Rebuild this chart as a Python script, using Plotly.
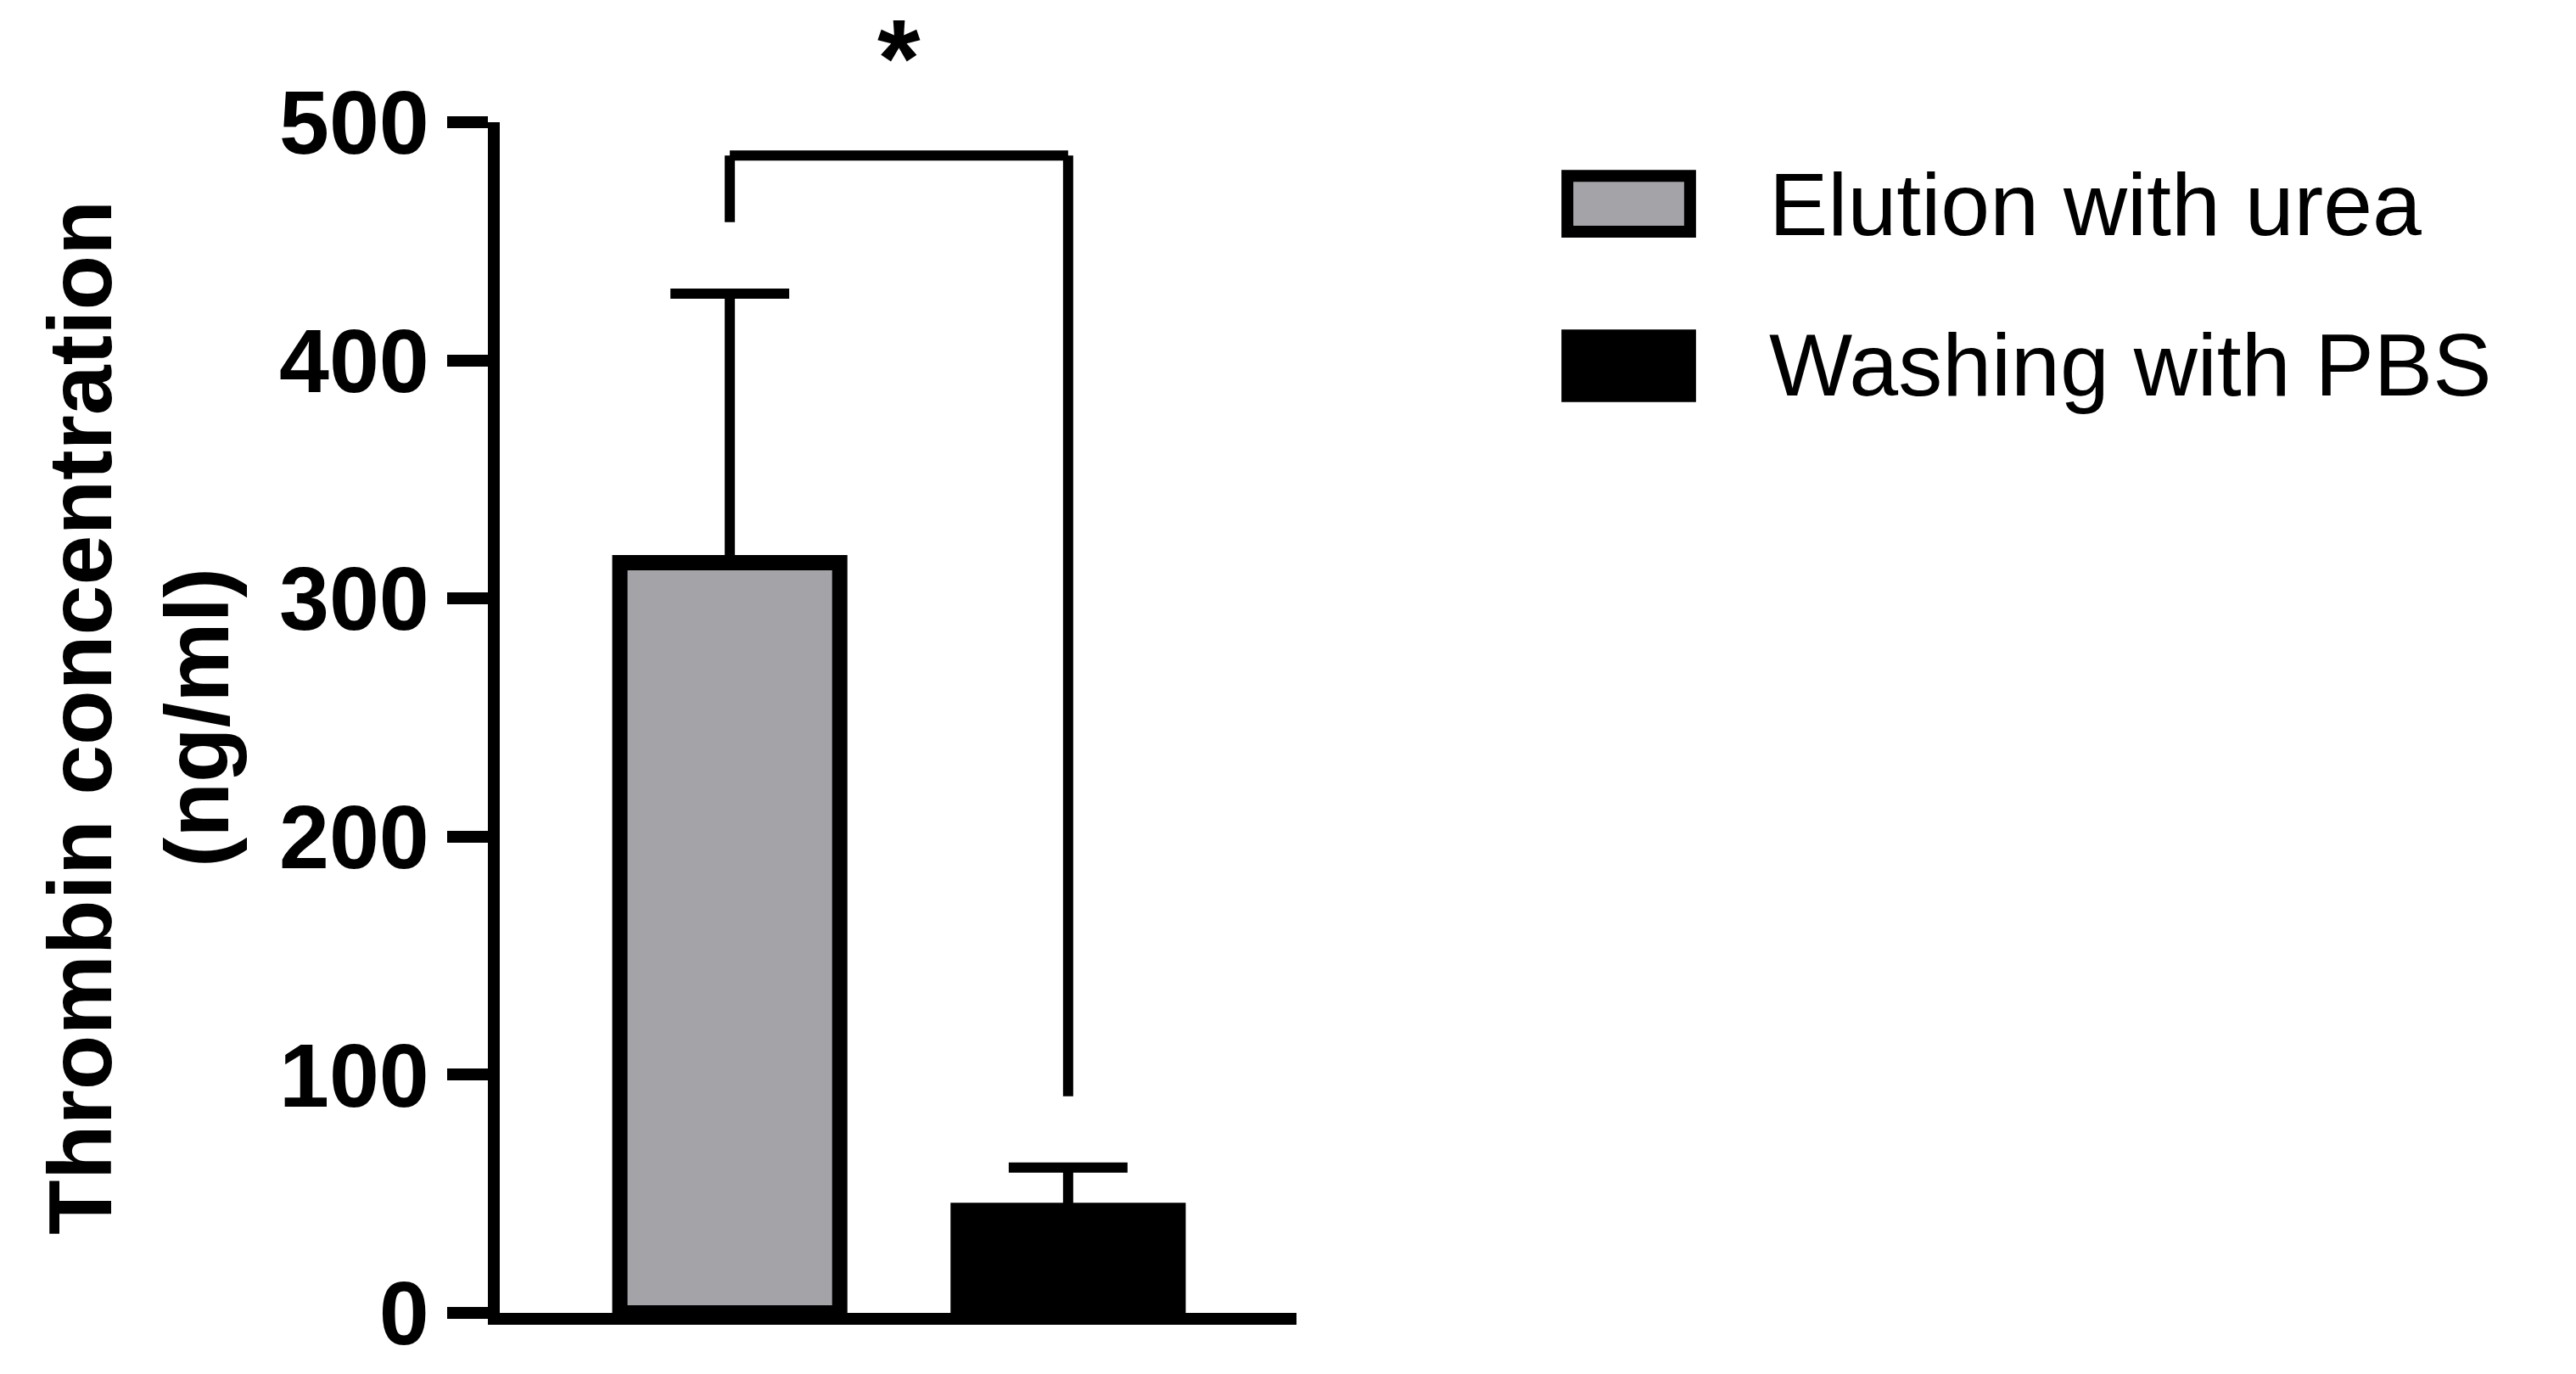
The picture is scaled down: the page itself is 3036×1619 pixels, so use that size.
import plotly.graph_objects as go

groups = ["Elution with urea", "Washing with PBS"]
means = [315, 43]
errs = [113, 18]
colors = ["#a3a3a8", "#000000"]
yticks = [0, 100, 200, 300, 400, 500]

fig = go.Figure()
for i, g in enumerate(groups):
    fig.add_bar(x=[i], y=[means[i]], width=0.65, name=g,
                marker=dict(color=colors[i], line=dict(color="black", width=18)),
                error_y=dict(type="data", array=[errs[i]], arrayminus=[0], symmetric=False,
                             color="black", thickness=12, width=70),
                showlegend=False)

# significance bracket
L = dict(color="black", width=12)
fig.add_shape(type="line", x0=0, x1=0, y0=458, y1=486, line=L)
fig.add_shape(type="line", x0=0, x1=1, y0=486, y1=486, line=L)
fig.add_shape(type="line", x0=1, x1=1, y0=486, y1=91, line=L)
fig.add_annotation(x=0.5, xref="x", yref="paper", y=1.0, yanchor="bottom", text="<b>*</b>",
                   showarrow=False, font=dict(size=130, color="black", family="Arial"))

# legend
for i, (y0, y1, yt) in enumerate([(0.908, 0.955, 0.931), (0.770, 0.821, 0.796)]):
    fig.add_shape(type="rect", xref="paper", yref="paper", x0=1.34, x1=1.494, y0=y0, y1=y1,
                  fillcolor=colors[i], line=dict(color="black", width=14))
    fig.add_annotation(xref="paper", yref="paper", x=1.591, y=yt, text=groups[i],
                       showarrow=False, xanchor="left", yanchor="middle",
                       font=dict(size=104, color="black", family="Arial"))

fig.update_layout(
    width=3036, height=1619, plot_bgcolor="white", paper_bgcolor="white",
    margin=dict(l=581, r=1516, t=136, b=80),
    font=dict(family="Arial", color="black"),
    xaxis=dict(range=[-0.68, 1.675], showticklabels=False, ticks="", showgrid=False,
               zeroline=False, showline=True, linecolor="black", linewidth=14),
    yaxis=dict(range=[0, 500], tickvals=yticks, ticktext=[f"<b>{v}</b>" for v in yticks],
               ticks="outside", ticklen=48, tickwidth=14, tickcolor="black",
               tickfont=dict(size=106), showgrid=False, zeroline=False,
               showline=True, linecolor="black", linewidth=14,
               title=dict(text="<b>Thrombin concentration<br>(ng/ml)</b>", font=dict(size=106), standoff=30)),
)
fig.write_html("out.html")
